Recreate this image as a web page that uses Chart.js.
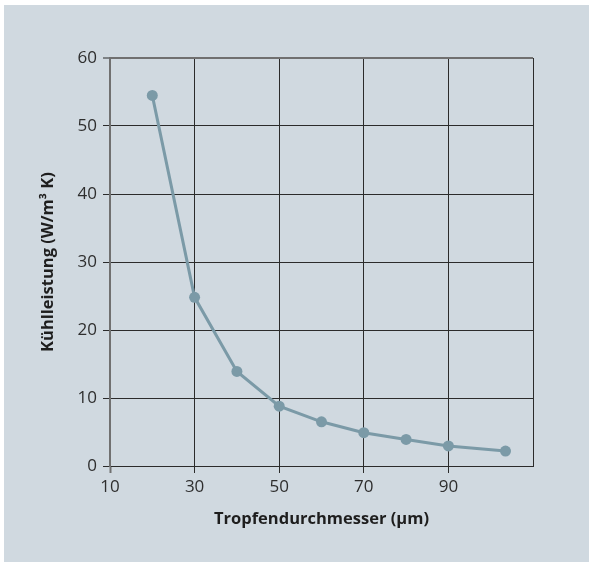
<!DOCTYPE html>
<html>
<head>
<meta charset="utf-8">
<script src="https://cdn.jsdelivr.net/npm/chart.js@4/dist/chart.umd.min.js"></script>
<style>
  html, body { margin: 0; padding: 0; background: #fff; }
  #wrap { position: absolute; left: 4px; top: 5px; width: 585px; height: 557px; background: #d0d9e0; }
</style>
</head>
<body>
<div id="wrap"><canvas id="chart" width="585" height="557"></canvas></div>
<script>
const diameters = [20, 30, 40, 50, 60, 70, 80, 90, 103.5];
const cooling = [54.5, 24.8, 13.9, 8.8, 6.5, 4.9, 3.9, 2.95, 2.2];

const lineColor = '#7b9aa7';
const gridDark = '#2b2b2b';
const gridGray = '#707070';

const ctx = document.getElementById('chart');

const points = diameters.map((d, i) => ({ x: d, y: cooling[i] }));

new Chart(ctx, {
  type: 'scatter',
  data: {
    datasets: [{
      data: points,
      showLine: true,
      borderColor: lineColor,
      backgroundColor: lineColor,
      borderWidth: 3,
      pointRadius: 5.5,
      pointHoverRadius: 5.5,
      pointBorderWidth: 0,
      tension: 0
    }]
  },
  options: {
    responsive: false,
    animation: false,
    layout: { padding: { top: 53, right: 56, left: 0, bottom: 0 } },
    plugins: {
      legend: { display: false },
      tooltip: { enabled: false }
    },
    scales: {
      x: {
        type: 'linear',
        min: 10,
        max: 110,
        afterFit: (s) => { s.height = 96; },
        ticks: {
          stepSize: 20,
          padding: 4,
          color: '#2e2e2e',
          font: { family: 'Open Sans', size: 17 },
          callback: (v) => (v === 110 ? '' : v)
        },
        grid: {
          tickLength: 7,
          color: (c) => (c.tick && c.tick.value === 10 ? 'transparent' : gridDark),
          lineWidth: 1,
          tickColor: (c) => {
            if (c.tick && c.tick.value === 110) return 'transparent';
            return c.tick && c.tick.value === 10 ? gridGray : gridDark;
          },
          tickWidth: (c) => (c.tick && c.tick.value === 10 ? 2 : 1)
        },
        border: { display: true, color: gridDark, width: 1 },
        title: {
          display: true,
          text: 'Tropfendurchmesser (µm)',
          color: '#1e1e1e',
          font: { family: 'Open Sans', size: 16.5, weight: 'bold' },
          padding: { top: 0, bottom: 33 }
        }
      },
      y: {
        min: 0,
        max: 60,
        afterFit: (s) => { s.width = 106; },
        ticks: {
          stepSize: 10,
          padding: 6,
          color: '#2e2e2e',
          font: { family: 'Open Sans', size: 17 }
        },
        grid: {
          tickLength: 7,
          color: (c) => (c.tick && c.tick.value === 60 ? gridGray : gridDark),
          lineWidth: (c) => (c.tick && c.tick.value === 60 ? 2 : 1),
          tickColor: gridDark,
          tickWidth: 1
        },
        border: { display: true, color: gridGray, width: 2 },
        title: {
          display: true,
          text: 'Kühlleistung (W/m³ K)',
          color: '#1e1e1e',
          font: { family: 'Open Sans', size: 16.5, weight: 'bold' },
          padding: { top: 34, bottom: 0 }
        }
      }
    }
  }
});
</script>
</body>
</html>
